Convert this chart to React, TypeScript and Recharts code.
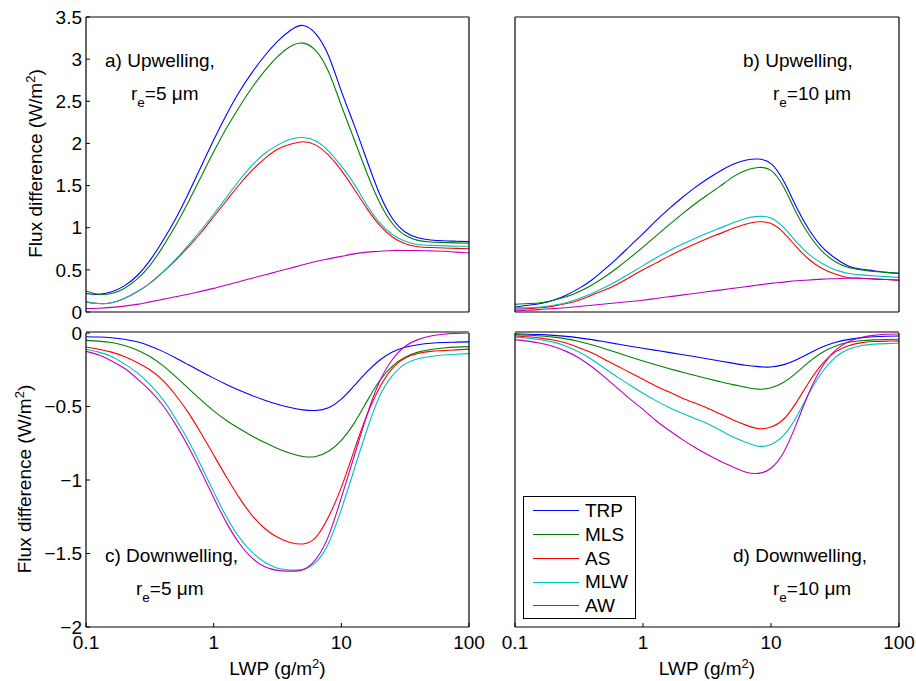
import React from 'react';
import { LineChart, Line, XAxis, YAxis, Legend } from 'recharts';

const FONT = '"Liberation Sans", Arial, Helvetica, sans-serif';
const W = 916;
const H = 681;

// LWP sample points (g/m2), ten per decade
const lwp = [
  0.1, 0.1259, 0.1585, 0.1995, 0.2512, 0.3162, 0.3981, 0.5012, 0.631, 0.7943,
  1, 1.259, 1.585, 1.995, 2.512, 3.162, 3.981, 5.012, 6.31, 7.943,
  10, 12.59, 15.85, 19.95, 25.12, 31.62, 39.81, 50.12, 63.1, 79.43, 100,
];

const xTicks = [0.1, 1, 10, 100];
const xMinorTicks = [0.2, 0.3, 0.4, 0.5, 0.6, 0.7, 0.8, 0.9, 2, 3, 4, 5, 6, 7, 8, 9, 20, 30, 40, 50, 60, 70, 80, 90];
const upTicks = [0, 0.5, 1, 1.5, 2, 2.5, 3, 3.5];
const downTicks = [-2, -1.5, -1, -0.5, 0];

const atmospheres = ['TRP', 'MLS', 'AS', 'MLW', 'AW'];
const colors = ['#0000ff', '#008000', '#ff0000', '#00bfbf', '#bf00bf'];

// a) upwelling, re = 5 um
const upRe5TRP = [0.22, 0.21, 0.24, 0.31, 0.43, 0.61, 0.84, 1.1, 1.4, 1.72, 2.04, 2.34, 2.61, 2.84, 3.04, 3.21, 3.34, 3.4, 3.3, 3.04, 2.62, 2.22, 1.8, 1.4, 1.11, 0.95, 0.88, 0.855, 0.845, 0.84, 0.835];
const upRe5MLS = [0.25, 0.21, 0.22, 0.28, 0.39, 0.55, 0.77, 1.02, 1.3, 1.6, 1.9, 2.18, 2.43, 2.66, 2.86, 3.03, 3.15, 3.19, 3.1, 2.85, 2.45, 2.05, 1.65, 1.3, 1.05, 0.91, 0.85, 0.83, 0.825, 0.82, 0.815];
const upRe5AS = [0.12, 0.1, 0.11, 0.16, 0.24, 0.34, 0.47, 0.61, 0.77, 0.94, 1.13, 1.32, 1.51, 1.68, 1.82, 1.93, 1.99, 2.02, 1.98, 1.86, 1.68, 1.46, 1.23, 1.03, 0.89, 0.81, 0.775, 0.765, 0.76, 0.755, 0.75];
const upRe5MLW = [0.12, 0.1, 0.11, 0.16, 0.24, 0.34, 0.47, 0.62, 0.79, 0.97, 1.16, 1.36, 1.56, 1.74, 1.88, 1.98, 2.05, 2.07, 2.03, 1.91, 1.73, 1.52, 1.27, 1.06, 0.92, 0.84, 0.8, 0.79, 0.785, 0.78, 0.78];
const upRe5AW = [0.04, 0.045, 0.055, 0.07, 0.09, 0.12, 0.15, 0.18, 0.21, 0.245, 0.28, 0.32, 0.36, 0.4, 0.44, 0.48, 0.52, 0.56, 0.6, 0.63, 0.66, 0.69, 0.71, 0.72, 0.73, 0.73, 0.73, 0.725, 0.72, 0.71, 0.7];

// b) upwelling, re = 10 um
const upRe10TRP = [0.06, 0.08, 0.1, 0.14, 0.2, 0.28, 0.38, 0.505, 0.64, 0.785, 0.93, 1.08, 1.22, 1.35, 1.47, 1.575, 1.67, 1.75, 1.8, 1.815, 1.76, 1.55, 1.24, 0.97, 0.77, 0.64, 0.55, 0.51, 0.49, 0.47, 0.46];
const upRe10MLS = [0.09, 0.1, 0.11, 0.14, 0.18, 0.24, 0.32, 0.415, 0.525, 0.645, 0.77, 0.9, 1.03, 1.155, 1.275, 1.385, 1.49, 1.6, 1.68, 1.715, 1.68, 1.48, 1.17, 0.91, 0.72, 0.6, 0.53, 0.5, 0.48, 0.47, 0.46];
const upRe10AS = [0.035, 0.04, 0.05, 0.07, 0.1, 0.14, 0.2, 0.26, 0.33, 0.415, 0.5, 0.58, 0.66, 0.735, 0.805, 0.87, 0.93, 0.99, 1.04, 1.07, 1.05, 0.94, 0.77, 0.62, 0.515, 0.45, 0.41, 0.4, 0.39, 0.385, 0.38];
const upRe10MLW = [0.05, 0.05, 0.06, 0.08, 0.11, 0.16, 0.22, 0.29, 0.37, 0.46, 0.55, 0.64, 0.725, 0.8, 0.87, 0.935, 0.995, 1.055, 1.11, 1.135, 1.115, 1.0, 0.83, 0.68, 0.575, 0.5, 0.46, 0.44, 0.43, 0.42, 0.41];
const upRe10AW = [0.015, 0.02, 0.03, 0.04, 0.05, 0.065, 0.08, 0.095, 0.11, 0.125, 0.14, 0.16, 0.18, 0.2, 0.22, 0.24, 0.26, 0.28, 0.3, 0.32, 0.34, 0.355, 0.37, 0.38, 0.39, 0.395, 0.4, 0.4, 0.395, 0.385, 0.375];

// c) downwelling, re = 5 um
const downRe5TRP = [-0.025, -0.027, -0.032, -0.042, -0.06, -0.088, -0.125, -0.168, -0.215, -0.262, -0.307, -0.35, -0.39, -0.425, -0.457, -0.485, -0.507, -0.523, -0.527, -0.508, -0.45, -0.36, -0.265, -0.185, -0.13, -0.097, -0.08, -0.07, -0.065, -0.062, -0.06];
const downRe5MLS = [-0.05, -0.055, -0.065, -0.085, -0.115, -0.16, -0.22, -0.295, -0.375, -0.455, -0.53, -0.595, -0.65, -0.7, -0.745, -0.785, -0.818, -0.84, -0.84, -0.805, -0.73, -0.615, -0.465, -0.325, -0.225, -0.165, -0.13, -0.112, -0.102, -0.096, -0.093];
const downRe5AS = [-0.095, -0.11, -0.13, -0.16, -0.2, -0.25, -0.32, -0.42, -0.54, -0.68, -0.83, -0.98, -1.12, -1.24, -1.33, -1.39, -1.425, -1.435, -1.39, -1.25, -1.05, -0.8, -0.56, -0.37, -0.24, -0.17, -0.14, -0.125, -0.12, -0.115, -0.11];
const downRe5MLW = [-0.11, -0.13, -0.16, -0.21, -0.27, -0.35, -0.45, -0.58, -0.73, -0.9, -1.08, -1.25, -1.39, -1.49, -1.56, -1.6, -1.612, -1.608, -1.56, -1.43, -1.2, -0.93, -0.66, -0.43, -0.29, -0.21, -0.175, -0.16, -0.15, -0.145, -0.14];
const downRe5AW = [-0.125, -0.15, -0.19, -0.24, -0.31, -0.39, -0.49, -0.62, -0.77, -0.94, -1.12, -1.29, -1.43, -1.53, -1.59, -1.615, -1.62, -1.61, -1.54, -1.38, -1.12, -0.84, -0.56, -0.33, -0.18, -0.09, -0.045, -0.02, -0.008, -0.003, 0];

// d) downwelling, re = 10 um
const downRe10TRP = [-0.006, -0.008, -0.011, -0.016, -0.023, -0.033, -0.045, -0.06, -0.075, -0.09, -0.104, -0.118, -0.132, -0.146, -0.16, -0.175, -0.19, -0.205, -0.219, -0.229, -0.231, -0.215, -0.182, -0.138, -0.096, -0.065, -0.045, -0.033, -0.026, -0.022, -0.02];
const downRe10MLS = [-0.012, -0.015, -0.02, -0.028, -0.04, -0.058, -0.08, -0.107, -0.135, -0.163, -0.19, -0.216, -0.241, -0.265, -0.288, -0.31, -0.331, -0.351, -0.368, -0.382, -0.372, -0.335, -0.27, -0.195, -0.133, -0.09, -0.065, -0.053, -0.047, -0.044, -0.043];
const downRe10AS = [-0.02, -0.026, -0.035, -0.048, -0.068, -0.1, -0.135, -0.18, -0.225, -0.27, -0.315, -0.36, -0.4, -0.44, -0.475, -0.51, -0.55, -0.59, -0.625, -0.65, -0.64, -0.585, -0.47, -0.33, -0.21, -0.13, -0.088, -0.067, -0.058, -0.055, -0.055];
const downRe10MLW = [-0.028, -0.035, -0.046, -0.062, -0.09, -0.13, -0.18, -0.24, -0.3, -0.355, -0.41, -0.46, -0.505, -0.545, -0.58, -0.615, -0.66, -0.705, -0.742, -0.77, -0.758, -0.695, -0.57, -0.405, -0.265, -0.168, -0.113, -0.087, -0.076, -0.072, -0.07];
const downRe10AW = [-0.045, -0.055, -0.07, -0.092, -0.125, -0.17, -0.23, -0.3, -0.375, -0.45, -0.52, -0.595, -0.66, -0.72, -0.775, -0.825, -0.87, -0.91, -0.945, -0.955, -0.92, -0.81, -0.615, -0.4, -0.23, -0.12, -0.062, -0.031, -0.016, -0.009, -0.007];

const makeRows = (series: number[][]) =>
  lwp.map((x, i) => {
    const row: Record<string, number> = { x };
    atmospheres.forEach((name, k) => {
      row[name] = series[k][i];
    });
    return row;
  });

const rowsA = makeRows([upRe5TRP, upRe5MLS, upRe5AS, upRe5MLW, upRe5AW]);
const rowsB = makeRows([upRe10TRP, upRe10MLS, upRe10AS, upRe10MLW, upRe10AW]);
const rowsC = makeRows([downRe5TRP, downRe5MLS, downRe5AS, downRe5MLW, downRe5AW]);
const rowsD = makeRows([downRe10TRP, downRe10MLS, downRe10AS, downRe10MLW, downRe10AW]);

const fmt = (v: number) => (v < 0 ? '\u2212' + String(-v) : String(v));
const tickStyle = { fill: '#000', fontSize: 19, fontFamily: FONT };
const axisLine = { stroke: '#000', strokeWidth: 1.2 };
const tickLine = { stroke: '#000', strokeWidth: 1 };

const xTitle = (props: any) => {
  const vb = props.viewBox;
  return (
    <text x={vb.x + vb.width / 2} y={vb.y + 48} textAnchor="middle" fontSize={19} fontFamily={FONT} fill="#000">
      LWP (g/m<tspan dy={-7} fontSize={13}>2</tspan><tspan dy={7}>)</tspan>
    </text>
  );
};

const yTitle = (baseX: number) => (props: any) => {
  const vb = props.viewBox;
  const cy = vb.y + vb.height / 2 - 1;
  return (
    <text x={baseX} y={cy} transform={`rotate(-90 ${baseX} ${cy})`} textAnchor="middle" fontSize={19} fontFamily={FONT} fill="#000">
      Flux difference (W/m<tspan dy={-7} fontSize={13}>2</tspan><tspan dy={7}>)</tspan>
    </text>
  );
};

const legendBox = () => (
  <div
    style={{
      width: 113,
      height: 123,
      boxSizing: 'border-box',
      border: '1.3px solid #000',
      background: '#fff',
      paddingTop: 2,
      fontFamily: FONT,
      fontSize: 19,
      color: '#000',
    }}
  >
    {atmospheres.map((name, k) => (
      <div key={name} style={{ display: 'flex', alignItems: 'center', height: 23.75 }}>
        <div style={{ marginLeft: 9, width: 46, height: 0, borderTop: `1.2px solid ${colors[k]}` }} />
        <span style={{ marginLeft: 6, lineHeight: '23.75px' }}>{name}</span>
      </div>
    ))}
  </div>
);

type PanelProps = {
  rows: Record<string, number>[];
  margin: { top: number; right: number; bottom: number; left: number };
  yDomain: [number, number];
  yTicks: number[];
  xLabels: boolean;
  yLabels: boolean;
  yTitleX?: number;
  minor?: boolean;
  legend?: boolean;
};

// every panel is a full-page chart; the margins place its plot box
function Panel(p: PanelProps) {
  return (
    <div style={{ position: 'absolute', left: 0, top: 0 }}>
      <LineChart width={W} height={H} data={p.rows} margin={p.margin}>
        <XAxis
          xAxisId="b"
          dataKey="x"
          type="number"
          scale="log"
          domain={[0.1, 100]}
          allowDataOverflow
          ticks={xTicks}
          interval={0}
          height={1}
          tickSize={-4}
          tickMargin={13}
          tick={p.xLabels ? tickStyle : false}
          tickFormatter={fmt}
          axisLine={axisLine}
          tickLine={tickLine}
          label={p.xLabels ? xTitle : undefined}
        />
        <XAxis
          xAxisId="t"
          orientation="top"
          dataKey="x"
          type="number"
          scale="log"
          domain={[0.1, 100]}
          allowDataOverflow
          ticks={xTicks}
          interval={0}
          height={1}
          tickSize={-4}
          tick={false}
          axisLine={axisLine}
          tickLine={tickLine}
        />
        {p.minor && (
          <XAxis
            xAxisId="m"
            orientation="top"
            dataKey="x"
            type="number"
            scale="log"
            domain={[0.1, 100]}
            allowDataOverflow
            ticks={xMinorTicks}
            interval={0}
            height={1}
            tickSize={-3}
            tick={false}
            axisLine={false}
            tickLine={tickLine}
          />
        )}
        <YAxis
          yAxisId="l"
          type="number"
          domain={p.yDomain}
          allowDataOverflow
          ticks={p.yTicks}
          interval={0}
          width={1}
          tickSize={-4}
          tickMargin={8}
          tick={p.yLabels ? tickStyle : false}
          tickFormatter={fmt}
          axisLine={axisLine}
          tickLine={tickLine}
          label={p.yTitleX !== undefined ? yTitle(p.yTitleX) : undefined}
        />
        <YAxis
          yAxisId="r"
          orientation="right"
          type="number"
          domain={p.yDomain}
          allowDataOverflow
          ticks={p.yTicks}
          interval={0}
          width={1}
          tickSize={-4}
          tick={false}
          axisLine={axisLine}
          tickLine={tickLine}
        />
        {atmospheres.map((name, k) => (
          <Line
            key={name}
            xAxisId="b"
            yAxisId="l"
            dataKey={name}
            type="natural"
            stroke={colors[k]}
            strokeWidth={1.1}
            dot={false}
            isAnimationActive={false}
          />
        ))}
        {p.legend && (
          <Legend
            layout="vertical"
            align="center"
            verticalAlign="middle"
            wrapperStyle={{ left: 523, top: 496, width: 113, height: 123 }}
            content={legendBox}
          />
        )}
      </LineChart>
    </div>
  );
}

const note = { fontSize: 19, fontFamily: FONT, fill: '#000' };

function Annotation({ x, y, title, dx, re }: { x: number; y: number; title: string; dx: number; re: string }) {
  return (
    <g>
      <text x={x} y={y} {...note}>{title}</text>
      <text x={x + dx} y={y + 33} {...note}>
        r<tspan dy={7} fontSize={13.5}>e</tspan>
        <tspan dy={-7}>={re} {'\u03bc'}m</tspan>
      </text>
    </g>
  );
}

export default function App() {
  return (
    <div style={{ position: 'absolute', left: 0, top: 0, width: W, height: H, background: '#fff' }}>
      <Panel rows={rowsA} margin={{ top: 16, right: 446, bottom: 368, left: 85 }}
        yDomain={[0, 3.5]} yTicks={upTicks} xLabels={false} yLabels yTitleX={42} />
      <Panel rows={rowsB} margin={{ top: 16, right: 16, bottom: 368, left: 514 }}
        yDomain={[0, 3.5]} yTicks={upTicks} xLabels={false} yLabels={false} />
      <Panel rows={rowsC} margin={{ top: 331, right: 446, bottom: 53, left: 85 }}
        yDomain={[-2, 0]} yTicks={downTicks} xLabels yLabels yTitleX={31} minor />
      <Panel rows={rowsD} margin={{ top: 331, right: 16, bottom: 53, left: 514 }}
        yDomain={[-2, 0]} yTicks={downTicks} xLabels yLabels={false} minor legend />
      <svg width={W} height={H} style={{ position: 'absolute', left: 0, top: 0, pointerEvents: 'none' }}>
        <Annotation x={105} y={67} title="a) Upwelling," dx={26} re="5" />
        <Annotation x={743} y={67} title="b) Upwelling," dx={30} re="10" />
        <Annotation x={105} y={562} title="c) Downwelling," dx={31} re="5" />
        <Annotation x={733} y={562} title="d) Downwelling," dx={40} re="10" />
      </svg>
    </div>
  );
}
